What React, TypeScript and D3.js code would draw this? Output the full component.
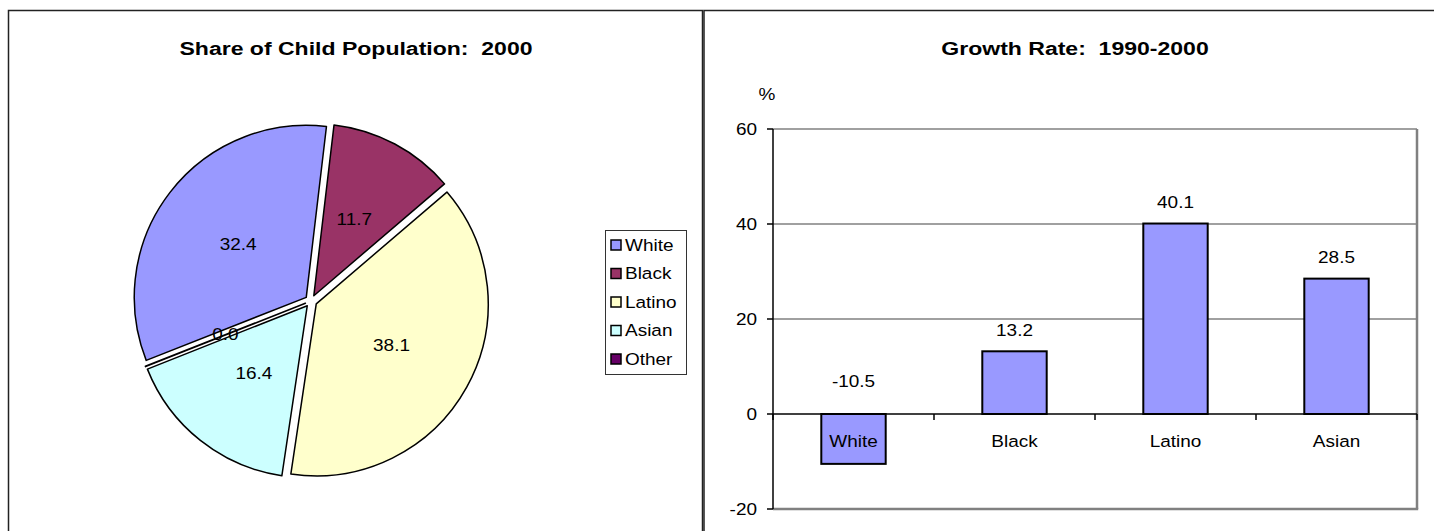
import React from "react";
import * as d3 from "d3";

const pieCategories = ["White", "Black", "Latino", "Asian", "Other"];
const pieValues = [32.4, 11.7, 38.1, 16.4, 0.04];
const pieColors = ["#9999FF", "#993366", "#FFFFCC", "#CCFFFF", "#660066"];

const barCategories = ["White", "Black", "Latino", "Asian"];
const barValues = [-10.5, 13.2, 40.1, 28.5];
const yTicks = [-20, 0, 20, 40, 60];

const FONT = "'Liberation Sans', Arial, Helvetica, sans-serif";
const SX = 1.15;
const FS = 16.5;

type TProps = {
  x: number;
  y: number;
  anchor?: "start" | "middle" | "end";
  size?: number;
  sx?: number;
  bold?: boolean;
  children: React.ReactNode;
};

function T({ x, y, anchor = "middle", size = FS, sx = SX, bold = false, children }: TProps) {
  return (
    <text
      transform={`translate(${x},${y}) scale(${sx},1)`}
      x={0}
      y={0}
      textAnchor={anchor}
      dominantBaseline="central"
      fontSize={size}
      fontWeight={bold ? "bold" : "normal"}
      style={{ whiteSpace: "pre" }}
    >
      {children}
    </text>
  );
}

export default function App() {
  const W = 1434;
  const H = 531;

  // Pie
  const cx = 311;
  const cy = 301;
  const r = 172;
  const explode = 6;
  const labelR = 86;
  const startAngle = (248.5 * Math.PI) / 180;
  const pie = d3
    .pie<number>()
    .sort(null)
    .startAngle(startAngle)
    .endAngle(startAngle + 2 * Math.PI)
    .value((d) => d);
  const arcs = pie(pieValues);
  const arcGen = d3.arc<d3.PieArcDatum<number>>().innerRadius(0).outerRadius(r);

  // Bars
  const plotL = 773;
  const plotR = 1417;
  const plotT = 129;
  const plotB = 509;
  const x = d3
    .scaleBand<string>()
    .domain(barCategories)
    .range([plotL, plotR])
    .paddingInner(0.6)
    .paddingOuter(0.3);
  const y = d3.scaleLinear().domain([-20, 60]).range([plotB, plotT]);
  const step = x.step();
  const boundaries = d3.range(barCategories.length + 1).map((i) => plotL + i * step);

  return (
    <svg
      width={W}
      height={H}
      viewBox={`0 0 ${W} ${H}`}
      style={{ position: "absolute", left: 0, top: 0, background: "#fff" }}
      fontFamily={FONT}
    >
      <rect x={0} y={0} width={W} height={H} fill="#fff" />
      {/* panel borders */}
      <rect x={8.5} y={10.5} width={694} height={H + 20} fill="none" stroke="#222" strokeWidth={1.5} />
      <rect x={704} y={10.5} width={W} height={H + 20} fill="none" stroke="#222" strokeWidth={1.5} />

      {/* Left title */}
      <T x={356} y={48} size={18} sx={1.28} bold>
        {"Share of Child Population:  2000"}
      </T>

      {/* Pie */}
      <g>
        {arcs.map((a, i) => {
          const mid = (a.startAngle + a.endAngle) / 2;
          const dx = explode * Math.sin(mid);
          const dy = -explode * Math.cos(mid);
          return (
            <path
              key={pieCategories[i]}
              d={arcGen(a) || ""}
              transform={`translate(${cx + dx},${cy + dy})`}
              fill={pieColors[i]}
              stroke="#000"
              strokeWidth={1.5}
              strokeLinejoin="round"
            />
          );
        })}
        {arcs.map((a, i) => {
          const mid = (a.startAngle + a.endAngle) / 2;
          const rr = labelR + explode;
          return (
            <T key={"l" + pieCategories[i]} x={cx + rr * Math.sin(mid)} y={cy - rr * Math.cos(mid)}>
              {pieValues[i].toFixed(1)}
            </T>
          );
        })}
      </g>

      {/* Legend */}
      <g>
        <rect x={605.5} y={230.5} width={81} height={144} fill="#fff" stroke="#333" strokeWidth={1} />
        {pieCategories.map((c, i) => {
          const yy = 245 + i * 28.5;
          return (
            <g key={"lg" + c}>
              <rect x={611} y={yy - 5} width={10} height={10} fill={pieColors[i]} stroke="#000" strokeWidth={1.5} />
              <T x={625} y={yy} anchor="start">
                {c}
              </T>
            </g>
          );
        })}
      </g>

      {/* Right title */}
      <T x={1075} y={48} size={18} sx={1.28} bold>
        {"Growth Rate:  1990-2000"}
      </T>
      <T x={767} y={94}>%</T>

      {/* gridlines */}
      {yTicks
        .filter((t) => t > 0)
        .map((t) => (
          <line key={"g" + t} x1={plotL} x2={plotR} y1={y(t)} y2={y(t)} stroke="#808080" strokeWidth={1.5} />
        ))}
      {/* plot border */}
      <line x1={plotR} x2={plotR} y1={plotT} y2={plotB} stroke="#808080" strokeWidth={2.5} />
      <line x1={plotL} x2={plotR + 1.2} y1={plotB} y2={plotB} stroke="#808080" strokeWidth={2.5} />

      {/* bars */}
      {barCategories.map((c, i) => {
        const v = barValues[i];
        const x0 = x(c) as number;
        return (
          <rect
            key={"b" + c}
            x={x0}
            y={Math.min(y(v), y(0))}
            width={x.bandwidth()}
            height={Math.abs(y(v) - y(0))}
            fill="#9999FF"
            stroke="#000"
            strokeWidth={2}
          />
        );
      })}

      {/* y axis */}
      <line x1={plotL} x2={plotL} y1={plotT} y2={plotB} stroke="#000" strokeWidth={1.5} />
      {yTicks.map((t) => (
        <g key={"t" + t}>
          <line x1={plotL - 6} x2={plotL} y1={y(t)} y2={y(t)} stroke="#000" strokeWidth={1.5} />
          <T x={plotL - 16} y={y(t)} anchor="end">
            {t}
          </T>
        </g>
      ))}

      {/* zero axis */}
      <line x1={plotL} x2={plotR} y1={y(0)} y2={y(0)} stroke="#000" strokeWidth={1.5} />
      {boundaries.map((bx, i) => (
        <line key={"ct" + i} x1={bx} x2={bx} y1={y(0)} y2={y(0) + 6} stroke="#000" strokeWidth={1.5} />
      ))}

      {/* category labels */}
      {barCategories.map((c) => (
        <T key={"cl" + c} x={(x(c) as number) + x.bandwidth() / 2} y={y(0) + 27}>
          {c}
        </T>
      ))}

      {/* value labels */}
      {barCategories.map((c, i) => {
        const v = barValues[i];
        const ly = v >= 0 ? y(v) - 21 : y(0) - 33;
        return (
          <T key={"vl" + c} x={(x(c) as number) + x.bandwidth() / 2} y={ly}>
            {v.toFixed(1)}
          </T>
        );
      })}
    </svg>
  );
}
